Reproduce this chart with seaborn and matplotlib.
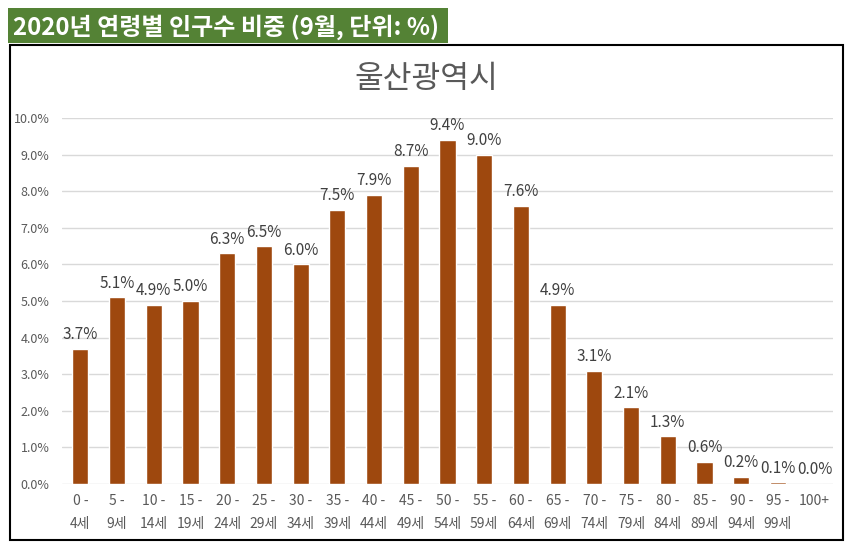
import matplotlib
matplotlib.use("Agg")
import matplotlib.pyplot as plt
import seaborn as sns
import pandas as pd
from matplotlib.patches import Rectangle

categories = ["0 -\n4세", "5 -\n9세", "10 -\n14세", "15 -\n19세", "20 -\n24세", "25 -\n29세",
              "30 -\n34세", "35 -\n39세", "40 -\n44세", "45 -\n49세", "50 -\n54세", "55 -\n59세",
              "60 -\n64세", "65 -\n69세", "70 -\n74세", "75 -\n79세", "80 -\n84세", "85 -\n89세",
              "90 -\n94세", "95 -\n99세", "100+\n"]
values = [3.7, 5.1, 4.9, 5.0, 6.3, 6.5, 6.0, 7.5, 7.9, 8.7, 9.4, 9.0, 7.6, 4.9, 3.1, 2.1,
          1.3, 0.6, 0.2, 0.05, 0.0]
labels = ["3.7%", "5.1%", "4.9%", "5.0%", "6.3%", "6.5%", "6.0%", "7.5%", "7.9%", "8.7%",
          "9.4%", "9.0%", "7.6%", "4.9%", "3.1%", "2.1%", "1.3%", "0.6%", "0.2%", "0.1%", "0.0%"]
yticks = [0, 1, 2, 3, 4, 5, 6, 7, 8, 9, 10]
title = "울산광역시"
banner = "2020년 연령별 인구수 비중 (9월, 단위: %)"

sns.set_theme(style="white")
plt.rcParams['font.family'] = ['Noto Sans CJK KR', 'DejaVu Sans']

W, H = 855, 548
fig = plt.figure(figsize=(W / 100, H / 100), dpi=100)

# chart frame
fig.patches.append(Rectangle((10 / W, 1 - 540 / H), (843 - 10) / W, (540 - 45) / H,
                             transform=fig.transFigure, fill=False, edgecolor="black",
                             linewidth=1.5, zorder=0))
# banner
fig.patches.append(Rectangle((8 / W, 1 - 43 / H), (448 - 8) / W, (43 - 8) / H,
                             transform=fig.transFigure, facecolor="#548235",
                             edgecolor="none", zorder=1))
fig.text(13 / W, 1 - 27 / H, banner, color="white", fontsize=17.3, fontweight="bold",
         va="center", ha="left")

ax = fig.add_axes([62 / W, 1 - 484 / H, (833 - 62) / W, (484 - 118) / H])
df = pd.DataFrame({"cat": categories, "val": values})
sns.barplot(data=df, x="cat", y="val", color="#9E480E", saturation=1, width=0.44, ax=ax)
ax.set_ylim(0, 10)
ax.set_xlim(-0.5, len(categories) - 0.5)
ax.set_yticks(yticks)
ax.set_yticklabels([f"{v:.1f}%" for v in yticks], fontsize=9, color="#595959")
ax.grid(axis="y", color="#D9D9D9", linewidth=1)
ax.set_axisbelow(True)
for s in ax.spines.values():
    s.set_visible(False)
ax.tick_params(axis="both", length=0)
ax.tick_params(axis="y", pad=9)
ax.tick_params(axis="x", pad=7)
ax.set_xticks(range(len(categories)))
ax.set_xticklabels(categories, fontsize=10, color="#595959", linespacing=1.85)
ax.set_xlabel("")
ax.set_ylabel("")
for i, (v, lab) in enumerate(zip(values, labels)):
    ax.annotate(lab, (i, v), xytext=(0, 4), textcoords="offset points", ha="center",
                va="bottom", fontsize=11, color="#404040")

fig.text(0.5 * (10 + 843) / W, 1 - 79 / H, title, fontsize=22.5, color="#595959",
         ha="center", va="center")

fig.savefig("out.png", dpi=100)
